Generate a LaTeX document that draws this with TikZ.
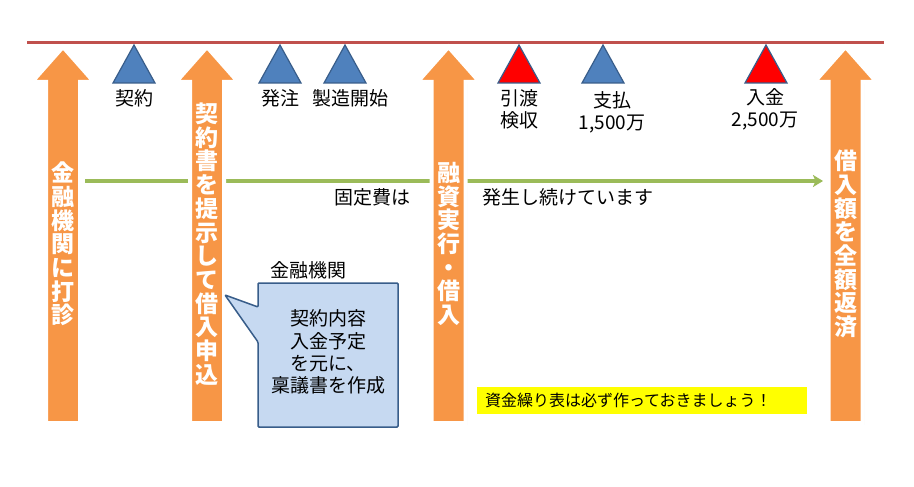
\documentclass[tikz,border=0pt]{standalone}
\usepackage{fontspec}
\setmainfont{Noto Sans CJK JP}
\usetikzlibrary{arrows.meta,shadows}
\definecolor{arrOrange}{HTML}{F79646}
\definecolor{lineRed}{HTML}{C0504D}
\definecolor{lineGreen}{HTML}{9BBB59}
\definecolor{triBlue}{HTML}{4F81BD}
\definecolor{triEdge}{HTML}{385D8A}
\definecolor{calloutFill}{HTML}{C6D9F1}
\definecolor{memoYellow}{HTML}{FFFF00}
\tikzset{
  bigarrow/.style={fill=arrOrange, draw=white, line width=4pt, line join=miter,
    drop shadow={opacity=0.3, shadow xshift=1.5pt, shadow yshift=-1.5pt}},
  tri/.style={draw=triEdge, line width=1.2pt, line join=miter},
  lbl/.style={font=\fontsize{19}{22}\selectfont, align=center, inner sep=0pt},
  vt/.style={font=\fontsize{23}{23.7}\selectfont\bfseries, text=white, align=center, inner sep=0pt},
}
\newcommand\uparrowshape[2]{%
  \begin{scope}[shift={(#1,0)}]
    \path[bigarrow] (-17,423) -- (-17,82) -- (-31,82) -- (0,47) -- (31,82) -- (17,82) -- (17,423) -- cycle;
    \coordinate (#2) at (0,244);
  \end{scope}}
\newcommand\tria[2]{%
  \path[tri,fill=#2] (#1,45) -- (#1+21,83) -- (#1-21,83) -- cycle;}
\begin{document}
\begin{tikzpicture}[x=1pt,y=-1pt]
\useasboundingbox (0,0) rectangle (914,487);
\fill[white] (0,0) rectangle (914,487);

% timeline
\coordinate (redL) at (27,43);
\coordinate (redR) at (884,43);
\draw[lineRed, line width=3pt] (redL) -- (redR);

% green arrow (behind the orange arrows)
\coordinate (gL) at (85,181);
\coordinate (gR) at (823,181);
\draw[lineGreen, line width=3.2pt, -{Stealth[length=10pt,width=12pt,inset=2.5pt]}] (gL) -- (gR);

% orange arrows
\uparrowshape{63}{a1}
\uparrowshape{207}{a2}
\uparrowshape{448.5}{a3}
\uparrowshape{845.5}{a4}

\node[vt] (t1) at (a1) {金\\融\\機\\関\\に\\打\\診};
\node[vt] (t2) at (a2) {契\\約\\書\\を\\提\\示\\し\\て\\借\\入\\申\\込};
\node[vt] (t3) at (a3) {融\\資\\実\\行\\・\\借\\入};
\node[vt] (t4) at (a4) {借\\入\\額\\を\\全\\額\\返\\済};

% triangles
\tria{134}{triBlue}
\tria{280}{triBlue}
\tria{345}{triBlue}
\tria{519}{red}
\tria{603}{triBlue}
\tria{766}{red}

% labels
\node[lbl] (keiyaku) at (134,98) {契約};
\node[lbl] (hatchu) at (280,98) {発注};
\node[lbl] (seizo) at (350,98) {製造開始};
\node[lbl] (hikiwatashi) at (519,109) {引渡\\検収};
\node[lbl] (shiharai) at (612,112) {支払\\1,500万};
\node[lbl] (nyukin) at (765,109) {入金\\2,500万};

\node[lbl] (kotei) at (372,197) {固定費は};
\node[lbl] (hassei) at (568,197) {発生し続けています};

% callout
\node[lbl] (kinyu) at (308,270) {金融機関};
\path[fill=calloutFill, draw=triEdge, line width=1.5pt, rounded corners=1pt]
  (258,283) -- (398,283) -- (398,427) -- (258,427) -- (258,342) -- (225,295) -- (258,307) -- cycle;
\node[lbl, font=\fontsize{19}{22.3}\selectfont] (ringi) at (328,352) {契約内容\\入金予定\\を元に、\\稟議書を作成};

% memo
\node[fill=memoYellow, text width=314pt, inner xsep=8pt, inner ysep=0pt, minimum height=27pt,
  align=left, font=\fontsize{16}{18}\selectfont] (memo) at (642,400.5) {資金繰り表は必ず作っておきましょう！};
\end{tikzpicture}
\end{document}
